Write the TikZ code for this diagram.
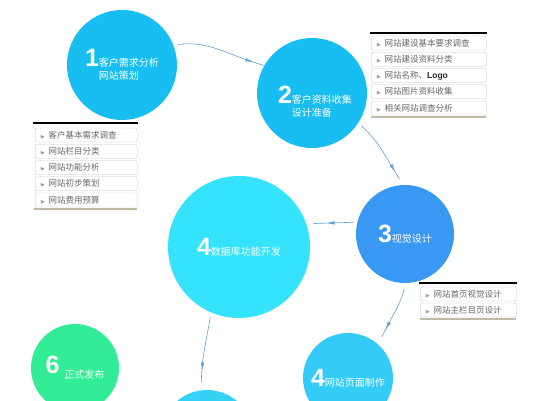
\documentclass[tikz,border=0pt]{standalone}
\usepackage{fontspec}
\setmainfont{Noto Sans CJK SC}
\newfontfamily\numfont{Liberation Sans}
\usepackage{amssymb}
\usepackage{xcolor}
\usetikzlibrary{arrows.meta}
\usetikzlibrary{decorations.markings}

\definecolor{skyblue}{RGB}{24,190,242}
\definecolor{deepblue}{RGB}{58,152,245}
\definecolor{lightcyan}{RGB}{54,227,253}
\definecolor{pagecyan}{RGB}{53,203,247}
\definecolor{lastcyan}{RGB}{52,211,246}
\definecolor{launchgreen}{RGB}{50,236,150}
\definecolor{arrowblue}{RGB}{100,160,215}
\definecolor{shadowgray}{RGB}{190,186,165}

\newcommand{\numtag}[1]{{\numfont\bfseries\fontsize{25}{25}\selectfont #1}}
\newcommand{\itemtip}{{\color{gray!80}\fontsize{5}{5}\selectfont$\blacktriangleright$}\hspace{3pt}}

\begin{document}
\begin{tikzpicture}[x=1pt,y=1pt]
\tikzset{>={Latex[width=3.5pt,length=8pt]}}
\tikzstyle{bubble} =[circle,inner sep=0pt,text=white,align=left,font=\fontsize{10}{13}\selectfont]
\tikzstyle{item} =[draw=gray!45,fill=white,rounded corners=2pt,anchor=west,minimum height=14pt,inner xsep=5pt,inner ysep=0pt,align=left,text=black!60,font=\fontsize{8.5}{10}\selectfont]
\tikzset{flow/.style={draw=arrowblue,line width=0.6pt,postaction={decorate},decoration={markings,mark=at position #1 with {\arrow{>}}}}}

\useasboundingbox (0,0) rectangle (541,400);
\clip (0,0) rectangle (541,400);

% circles
\node[bubble,fill=skyblue,minimum size=110](c1) at (122,335){\numtag{1}客户需求分析\\\hphantom{\numtag{1}}网站策划};
\node[bubble,fill=skyblue,minimum size=110](c2) at (312,307){};
\node[bubble](t2) at (315,298){\numtag{2}客户资料收集\\\hphantom{\numtag{2}}设计准备};
\node[bubble,fill=deepblue,minimum size=98](c3) at (405,166){\numtag{3}视觉设计};
\node[bubble,fill=lightcyan,minimum size=142](c4) at (239,153){\numtag{4}数据库功能开发};
\node[bubble,fill=pagecyan,minimum size=90](c5) at (348,22){\numtag{4}网站页面制作};
\node[bubble,fill=lastcyan,minimum size=92](c7) at (207,-36){};
\node[bubble,fill=launchgreen,minimum size=88](c6) at (75,32){\numtag{6}\hspace{5pt}\raisebox{-5pt}{正式发布}};

% connectors
\draw [flow=0.88,shorten <=5pt] (c1.21) to [out=8,in=165] (c2.150);
\draw [flow=0.8,shorten <=4pt,shorten >=7pt] (c2.327) to [out=-42,in=123] (c3.92);
\draw [flow=0.6,shorten <=4pt,shorten >=7pt] (c3.166) to (c4.19);
\draw [flow=0.75,shorten <=6pt,shorten >=9pt] (c3.271) to [out=-105,in=68] (c5.47);
\draw [flow=0.75,shorten <=5pt,shorten >=7pt] (c4.247) to [out=-100,in=90] (c7.97);

% list 1
\draw[line width=2.2pt] (33,277) -- (138,277);
\node[item,text width=92](p1) at (35,265){\itemtip 客户基本需求调查};
\node[item,text width=92](p2) at (35,248.75){\itemtip 网站栏目分类};
\node[item,text width=92](p3) at (35,232.5){\itemtip 网站功能分析};
\node[item,text width=92](p4) at (35,216.25){\itemtip 网站初步策划};
\node[item,text width=92](p5) at (35,200){\itemtip 网站费用预算};
\draw[shadowgray,line width=1.5pt] (34,191) -- (137,191);

% list 2
\draw[line width=2.2pt] (370,367) -- (487,367);
\node[item,text width=105](q1) at (371,357){\itemtip 网站建设基本要求调查};
\node[item,text width=105](q2) at (371,340.75){\itemtip 网站建设资料分类};
\node[item,text width=105](q3) at (371,324.5){\itemtip 网站名称、{\numfont\bfseries\color{black!85}Logo}};
\node[item,text width=105](q4) at (371,308.25){\itemtip 网站图片资料收集};
\node[item,text width=105](q5) at (371,292){\itemtip 相关网站调查分析};
\draw[shadowgray,line width=1.5pt] (371,283) -- (486,283);

% list 3
\draw[line width=2.2pt] (419,117) -- (517,117);
\node[item,text width=86](r1) at (420,106){\itemtip 网站首页视觉设计};
\node[item,text width=86](r2) at (420,90){\itemtip 网站主栏目页设计};
\draw[shadowgray,line width=1.5pt] (420,81) -- (516,81);
\end{tikzpicture}
\end{document}
